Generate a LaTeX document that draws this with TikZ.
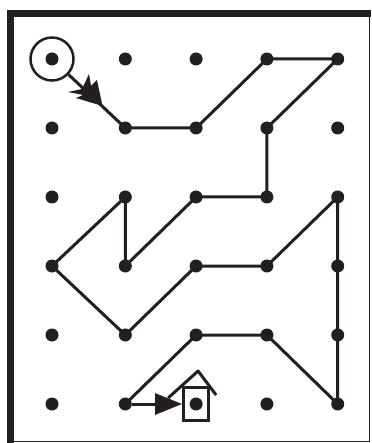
\documentclass[tikz,border=0pt]{standalone}
\usetikzlibrary{arrows.meta, positioning}

\begin{document}
\begin{tikzpicture}[
        x=1pt, y=-1pt,
        dot/.style={circle, fill=ink, inner sep=0pt, outer sep=0pt, minimum size=13pt},
        ring/.style={circle, draw=ink, line width=2.5pt, inner sep=0pt, minimum size=43pt},
        hut/.style={rectangle, draw=ink, line width=3pt, inner sep=0pt, minimum width=25pt, minimum height=33pt},
        trail/.style={draw=ink, line width=3pt, line join=round},
        arr/.style={-{Triangle[length=27pt, width=21pt]}, draw=ink, line width=3pt},
        node distance=56pt and 57.8pt
        ]
        \definecolor{ink}{HTML}{231F20}
        \useasboundingbox (0,0) rectangle (371,443);
        \draw[ink, line width=7pt] (10.5,443) -- (10.5,13.5) -- (371,13.5);
        \draw[ink, line width=1.5pt] (369.5,13.5) -- (369.5,441.5) -- (10.5,441.5);

        \node[dot] at (52,59) (a1) {};
        \node[dot, right=60.3pt of a1] (a2) {};
        \node[dot, right=of a2] (a3) {};
        \node[dot, right=of a3] (a4) {};
        \node[dot, right=of a4] (a5) {};
        \node[dot, below=of a1] (b1) {};
        \node[dot, right=60.3pt of b1] (b2) {};
        \node[dot, right=of b2] (b3) {};
        \node[dot, right=of b3] (b4) {};
        \node[dot, right=of b4] (b5) {};
        \node[dot, below=of b1] (c1) {};
        \node[dot, right=60.3pt of c1] (c2) {};
        \node[dot, right=of c2] (c3) {};
        \node[dot, right=of c3] (c4) {};
        \node[dot, right=of c4] (c5) {};
        \node[dot, below=of c1] (d1) {};
        \node[dot, right=60.3pt of d1] (d2) {};
        \node[dot, right=of d2] (d3) {};
        \node[dot, right=of d3] (d4) {};
        \node[dot, right=of d4] (d5) {};
        \node[dot, below=of d1] (e1) {};
        \node[dot, right=60.3pt of e1] (e2) {};
        \node[dot, right=of e2] (e3) {};
        \node[dot, right=of e3] (e4) {};
        \node[dot, right=of e4] (e5) {};
        \node[dot, below=of e1] (f1) {};
        \node[dot, right=60.3pt of f1] (f2) {};
        \node[dot, right=of f2] (f3) {};
        \node[dot, right=of f3] (f4) {};
        \node[dot, right=of f4] (f5) {};

        \node[ring] at (a1) (start) {};
        \node[hut] at (f3) (home) {};

        \draw[trail] (start) -- (b2.center) -- (b3.center) -- (a4.center) -- (a5.center) -- (b4.center) -- (c4.center) -- (c3.center) -- (d2.center) -- (c2.center) -- (d1.center) -- (e2.center) -- (d3.center) -- (d4.center) -- (c5.center) -- (f5.center) -- (e4.center) -- (e3.center) -- (f2.center);
        \draw[arr] (f2) -- (home.west);
        \draw[trail] ([shift={(-28,12)}]home.north) -- ([shift={(2,-15)}]home.north) -- ([shift={(20,9)}]home.north);
        \fill[ink] (102.5,106) -- (97,80) -- (91,86) -- (89,74) -- (82,89) -- (68,92) -- (83,95) -- (76,98) -- cycle;
    \end{tikzpicture}
\end{document}
